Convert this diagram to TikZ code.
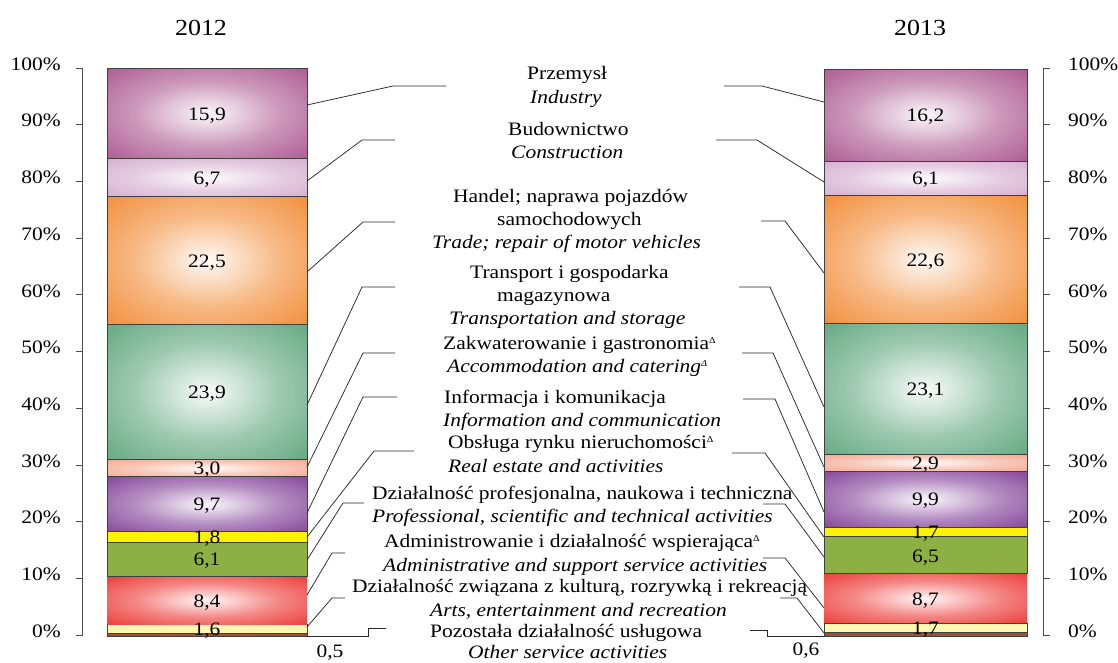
\documentclass[tikz,border=0pt]{standalone}
\usepackage{fontspec}
\setmainfont{Liberation Serif}[FakeStretch=1.13]
\definecolor{cInd}{RGB}{163,70,132}
\definecolor{cCon}{RGB}{208,164,202}
\definecolor{cTra}{RGB}{240,128,34}
\definecolor{cTrn}{RGB}{80,158,114}
\definecolor{cAcc}{RGB}{243,158,132}
\definecolor{cInf}{RGB}{118,46,142}
\definecolor{cRea}{RGB}{255,242,0}
\definecolor{cPro}{RGB}{140,176,67}
\definecolor{cAdm}{RGB}{234,36,32}
\definecolor{cArt}{RGB}{255,246,176}
\definecolor{cOth}{RGB}{160,82,45}
\definecolor{cLine}{RGB}{40,40,40}
\newcommand{\mkshade}[1]{%
  \colorlet{#1c}{white!96!#1}%
  \colorlet{#1m}{white!45!#1}%
  \pgfdeclareradialshading{sh#1}{\pgfpoint{0bp}{0bp}}{%
    color(0bp)=(#1c); color(18bp)=(#1m); color(42bp)=(#1); color(72bp)=(#1)}}
\mkshade{cInd}\mkshade{cCon}\mkshade{cTra}\mkshade{cTrn}\mkshade{cAcc}
\mkshade{cInf}\mkshade{cAdm}
\begin{document}
\begin{tikzpicture}[x=1pt,y=-1pt,
  seg/.style={draw=black!75, line width=0.7pt, inner sep=0pt, outer sep=0pt},
  segL/.style={seg, minimum width=200pt},
  segR/.style={seg, minimum width=203pt},
  rad/.style={shade, shading=sh#1},
  flat/.style={fill=#1},
  num/.style={font=\fontsize{19}{22}\selectfont, inner sep=0pt, anchor=mid, yshift=-4.5pt},
  lab/.style={font=\fontsize{19}{22}\selectfont, inner sep=0pt, anchor=mid west, yshift=-4.5pt},
  ilab/.style={lab, font=\fontsize{19}{22}\selectfont\itshape},
  axl/.style={font=\fontsize{19}{22}\selectfont, inner sep=0pt, yshift=-3pt},
  ttl/.style={font=\fontsize{23}{26}\selectfont, inner sep=0pt, anchor=mid, yshift=-5.5pt},
  conn/.style={draw=cLine, line width=0.75pt},
  axis/.style={draw=black!70, line width=0.8pt}]
\useasboundingbox (0,0) rectangle (1118,662);

% titles
\node[ttl] (t12) at (201,28) {2012};
\node[ttl] (t13) at (920,28) {2013};

% axes
\draw[axis] (76,68) -- (82,68) -- (82,635) -- (76,635);
\draw[axis] (1050,68) -- (1043,68) -- (1043,635) -- (1050,635);
\foreach \p [count=\i from 0] in {0,10,...,100}{
  \pgfmathsetmacro{\yy}{635-5.67*\p}
  \draw[axis] (76,\yy) -- (82,\yy);
  \draw[axis] (1043,\yy) -- (1050,\yy);
  \node[axl, anchor=mid east] (al\i) at (61,\yy-3) {\p\%};
  \node[axl, anchor=mid west] (ar\i) at (1068,\yy-3) {\p\%};
}

% ---- 2012 bar ----
\node[segL, flat=cOth, minimum height=2.84pt] (L1) at (207,634.58) {};
\node[segL, flat=cArt, minimum height=9.07pt] (L2) at (207,628.63) {};
\node[segL, rad=cAdm, draw=none, minimum height=47.63pt] (L3) at (207,600.28) {};
\node[segL, flat=cPro, minimum height=34.59pt] (L4) at (207,559.17) {};
\node[segL, flat=cRea, minimum height=10.21pt] (L5) at (207,536.77) {};
\node[segL, rad=cInf, minimum height=55.0pt] (L6) at (207,504.17) {};
\node[segL, rad=cAcc, minimum height=17.01pt] (L7) at (207,468.17) {};
\node[segL, rad=cTrn, minimum height=135.51pt] (L8) at (207,391.9) {};
\node[segL, rad=cTra, minimum height=127.58pt] (L9) at (207,260.36) {};
\node[segL, rad=cCon, minimum height=37.99pt] (L10) at (207,177.58) {};
\node[segL, rad=cInd, minimum height=90.15pt] (L11) at (207,113.5) {};

\node[num] (nL2) at (L2) {1,6};
\node[num] (nL3) at (L3) {8,4};
\node[num] (nL4) at (L4) {6,1};
\node[num] (nL5) at (L5) {1,8};
\node[num] (nL6) at (L6) {9,7};
\node[num] (nL7) at (L7) {3,0};
\node[num] (nL8) at (L8) {23,9};
\node[num] (nL9) at (L9) {22,5};
\node[num] (nL10) at (L10) {6,7};
\node[num] (nL11) at (L11) {15,9};
\node[num] (nL1) at (330,651) {0,5};

% ---- 2013 bar ----
\node[segR, flat=cOth, minimum height=3.4pt] (R1) at (925.5,634.3) {};
\node[segR, flat=cArt, minimum height=9.64pt] (R2) at (925.5,627.78) {};
\node[segR, rad=cAdm, draw=none, minimum height=49.33pt] (R3) at (925.5,598.3) {};
\node[segR, flat=cPro, minimum height=36.86pt] (R4) at (925.5,555.2) {};
\node[segR, flat=cRea, minimum height=9.64pt] (R5) at (925.5,531.95) {};
\node[segR, rad=cInf, minimum height=56.13pt] (R6) at (925.5,499.07) {};
\node[segR, rad=cAcc, minimum height=16.44pt] (R7) at (925.5,462.78) {};
\node[segR, rad=cTrn, minimum height=130.98pt] (R8) at (925.5,389.07) {};
\node[segR, rad=cTra, minimum height=128.14pt] (R9) at (925.5,259.51) {};
\node[segR, rad=cCon, minimum height=34.59pt] (R10) at (925.5,178.15) {};
\node[segR, rad=cInd, minimum height=91.85pt] (R11) at (925.5,114.93) {};

\node[num] (nR2) at (R2) {1,7};
\node[num] (nR3) at (R3) {8,7};
\node[num] (nR4) at (R4) {6,5};
\node[num] (nR5) at (R5) {1,7};
\node[num] (nR6) at (R6) {9,9};
\node[num] (nR7) at (R7) {2,9};
\node[num] (nR8) at (R8) {23,1};
\node[num] (nR9) at (R9) {22,6};
\node[num] (nR10) at (R10) {6,1};
\node[num] (nR11) at (R11) {16,2};
\node[num] (nR1) at (806,649) {0,6};

% ---- labels ----
\newcommand{\dlt}{\textsuperscript{\fontsize{9}{9}\selectfont Δ}}
\node[lab]  (k1)  at (527,73)  {Przemysł};
\node[ilab] (k2)  at (530,97)  {Industry};
\node[lab]  (k3)  at (508,129) {Budownictwo};
\node[ilab] (k4)  at (511,152) {Construction};
\node[lab]  (k5)  at (453,196) {Handel; naprawa pojazdów};
\node[lab]  (k6)  at (497,219) {samochodowych};
\node[ilab] (k7)  at (432,242) {Trade; repair of motor vehicles};
\node[lab]  (k8)  at (470,272) {Transport i gospodarka};
\node[lab]  (k9)  at (497,295) {magazynowa};
\node[ilab] (k10) at (449,318) {Transportation and storage};
\node[lab]  (k11) at (443,343) {Zakwaterowanie i gastronomia\dlt};
\node[ilab] (k12) at (447,366) {Accommodation and catering\dlt};
\node[lab]  (k13) at (444,397) {Informacja i komunikacja};
\node[ilab] (k14) at (443,420) {Information and communication};
\node[lab]  (k15) at (448,442) {Obsługa rynku nieruchomości\dlt};
\node[ilab] (k16) at (448,466) {Real estate and activities};
\node[lab]  (k17) at (372,493) {Działalność profesjonalna, naukowa i techniczna};
\node[ilab] (k18) at (372,516) {Professional, scientific and technical activities};
\node[lab]  (k19) at (384,541) {Administrowanie i działalność wspierająca\dlt};
\node[ilab] (k20) at (383,565) {Administrative and support service activities};
\node[lab]  (k21) at (352,586) {Działalność związana z kulturą, rozrywką i rekreacją};
\node[ilab] (k22) at (430,610) {Arts, entertainment and recreation};
\node[lab]  (k23) at (430,631) {Pozostała działalność usługowa};
\node[ilab] (k24) at (468,652) {Other service activities};

% ---- connectors, left ----
\draw[conn] (L11.east |- 0,105) -- (393,86) -- (446,86) coordinate (eL11);
\draw[conn] (L10.east |- 0,181) -- (362,140) -- (395,140) coordinate (eL10);
\draw[conn] (L9.east |- 0,272) -- (363,222) -- (395,222) coordinate (eL9);
\draw[conn] (L8.east |- 0,405) -- (362,287) -- (395,287) coordinate (eL8);
\draw[conn] (L7.east |- 0,467) -- (363,353) -- (395,353) coordinate (eL7);
\draw[conn] (L6.east |- 0,513) -- (363,397) -- (397,397) coordinate (eL6);
\draw[conn] (L5.east |- 0,537) -- (374,451) -- (414,451) coordinate (eL5);
\draw[conn] (L4.east |- 0,560) -- (343,503) -- (364,503) coordinate (eL4);
\draw[conn] (L3.east |- 0,595) -- (332,553) -- (345,553) coordinate (eL3);
\draw[conn] (L2.east |- 0,627) -- (332,598) -- (345,598) coordinate (eL2);
\draw[conn] (L1.east |- 0,636) -- (368,636) -- (368,628) -- (386,628) coordinate (eL1);

% ---- connectors, right ----
\draw[conn] (R11.west |- 0,102) -- (762,86) -- (724,86) coordinate (eR11);
\draw[conn] (R10.west |- 0,182) -- (757,140) -- (716,140) coordinate (eR10);
\draw[conn] (R9.west |- 0,273) -- (785,221) -- (761,221) coordinate (eR9);
\draw[conn] (R8.west |- 0,407) -- (770,287) -- (739,287) coordinate (eR8);
\draw[conn] (R7.west |- 0,467) -- (773,353) -- (742,353) coordinate (eR7);
\draw[conn] (R6.west |- 0,512) -- (775,399) -- (743,399) coordinate (eR6);
\draw[conn] (R5.west |- 0,537) -- (765,453) -- (732,453) coordinate (eR5);
\draw[conn] (R4.west |- 0,557) -- (785,504) -- (763,504) coordinate (eR4);
\draw[conn] (R3.west |- 0,608) -- (785,558) -- (763,558) coordinate (eR3);
\draw[conn] (R2.west |- 0,633) -- (797,598) -- (780,598) coordinate (eR2);
\draw[conn] (R1.west |- 0,636) -- (767,636) -- (767,630) -- (750,630) coordinate (eR1);
\end{tikzpicture}
\end{document}
